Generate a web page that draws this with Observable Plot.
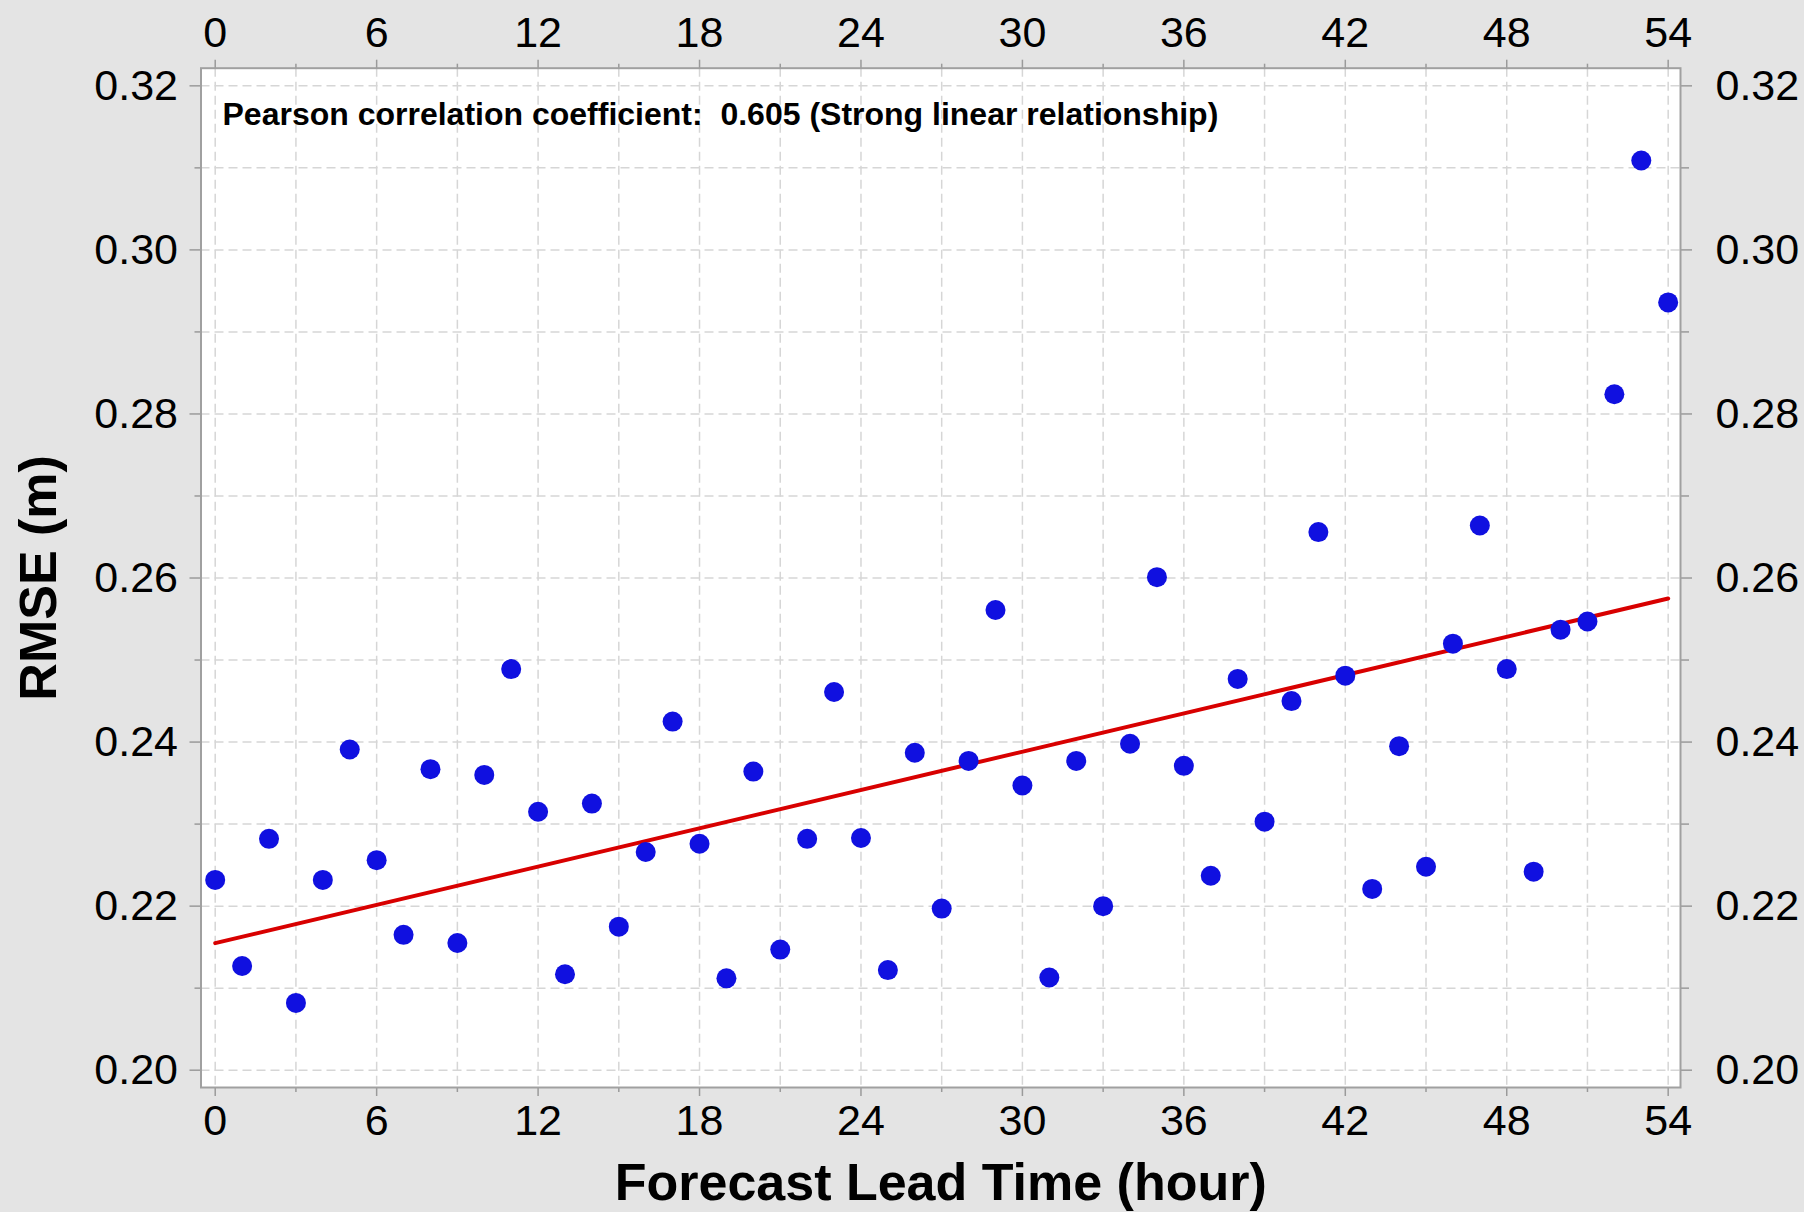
<!DOCTYPE html>
<html>
<head>
<meta charset="utf-8">
<script src="https://cdn.jsdelivr.net/npm/d3@7"></script>
<script src="https://cdn.jsdelivr.net/npm/@observablehq/plot@0.6"></script>
<style>
  html, body { margin: 0; padding: 0; background: #e4e4e4; }
  svg text { white-space: pre; }
</style>
</head>
<body>
<div id="chart"></div>
<script>
// ---- data ----
const hours = [0,1,2,3,4,5,6,7,8,9,10,11,12,13,14,15,16,17,18,19,20,21,22,23,24,25,26,27,28,29,30,31,32,33,34,35,36,37,38,39,40,41,42,43,44,45,46,47,48,49,50,51,52,53,54];
const rmse = [0.2232,0.2127,0.2282,0.2082,0.2232,0.2391,0.2256,0.2165,0.2367,0.2155,
              0.2360,0.2489,0.2315,0.2117,0.2325,0.2175,0.2266,0.2425,0.2276,0.2112,
              0.2364,0.2147,0.2282,0.2461,0.2283,0.2122,0.2387,0.2197,0.2377,0.2561,
              0.2347,0.2113,0.2377,0.2200,0.2398,0.2601,0.2371,0.2237,0.2477,0.2303,
              0.2450,0.2656,0.2481,0.2221,0.2395,0.2248,0.2520,0.2664,0.2489,0.2242,
              0.2537,0.2547,0.2824,0.3109,0.2936];
const xTicks = [0,6,12,18,24,30,36,42,48,54];
const xMinorTicks = [3,9,15,21,27,33,39,45,51];
const xGrid = [0,3,6,9,12,15,18,21,24,27,30,33,36,39,42,45,48,51,54];
const yTicks = [0.20,0.22,0.24,0.26,0.28,0.30,0.32];
const yMinorTicks = [0.21,0.23,0.25,0.27,0.29,0.31];
const yGrid = [0.20,0.21,0.22,0.23,0.24,0.25,0.26,0.27,0.28,0.29,0.30,0.31,0.32];
const xLabel = "Forecast Lead Time (hour)";
const yLabel = "RMSE (m)";
const annotation = "Pearson correlation coefficient:  0.605 (Strong linear relationship)";

const data = hours.map((h, i) => ({hour: h, rmse: rmse[i]}));

const tickColor = "#9a9a9a";
const gridStyle = {stroke: "#d6d6d6", strokeOpacity: 1, strokeWidth: 1.5, strokeDasharray: "9,5"};
const fmt = d3.format(".2f");

const chart = Plot.plot({
  width: 1804,
  height: 1212,
  marginLeft: 200.5,
  marginRight: 124,
  marginTop: 67.7,
  marginBottom: 125,
  style: {background: "#e4e4e4", fontFamily: "'Liberation Sans', Arial, sans-serif", color: "black"},
  x: {domain: [-0.528, 54.458], label: null},
  y: {domain: [0.19789, 0.32215], label: null},
  marks: [
    Plot.frame({fill: "white", stroke: "none"}),
    Plot.gridX(xGrid, gridStyle),
    Plot.gridY(yGrid, gridStyle),
    // x axes (bottom & top)
    Plot.axisX(xTicks, {anchor: "bottom", tickSize: 9, tickPadding: 8, fontSize: 43, stroke: tickColor, strokeWidth: 1.5, fill: "black", label: null}),
    Plot.axisX(xMinorTicks, {anchor: "bottom", tickSize: 5, tickFormat: () => "", stroke: tickColor, strokeWidth: 1.5, label: null}),
    Plot.axisX(xTicks, {anchor: "top", tickSize: 9, tickPadding: 12, fontSize: 43, stroke: tickColor, strokeWidth: 1.5, fill: "black", label: null}),
    Plot.axisX(xMinorTicks, {anchor: "top", tickSize: 5, tickFormat: () => "", stroke: tickColor, strokeWidth: 1.5, label: null}),
    // y axes (left & right)
    Plot.axisY(yTicks, {anchor: "left", tickSize: 11, tickPadding: 12, fontSize: 43, tickFormat: fmt, stroke: tickColor, strokeWidth: 1.5, fill: "black", label: null}),
    Plot.axisY(yMinorTicks, {anchor: "left", tickSize: 6, tickFormat: () => "", stroke: tickColor, strokeWidth: 1.5, label: null}),
    Plot.axisY(yTicks, {anchor: "right", tickSize: 11, tickPadding: 24, fontSize: 43, tickFormat: fmt, stroke: tickColor, strokeWidth: 1.5, fill: "black", label: null}),
    Plot.axisY(yMinorTicks, {anchor: "right", tickSize: 8, tickFormat: () => "", stroke: tickColor, strokeWidth: 1.5, label: null}),
    // regression line
    Plot.linearRegressionY(data, {x: "hour", y: "rmse", ci: 0, stroke: "#d80000", strokeWidth: 4}),
    // points
    Plot.dot(data, {x: "hour", y: "rmse", r: 10, fill: "#1010e0", stroke: "none"}),
    // annotation
    Plot.text([annotation], {frameAnchor: "top-left", textAnchor: "start", lineAnchor: "top", dx: 21.5, dy: 34, fontSize: 32, fontWeight: "bold", fill: "black"}),
    // axis titles
    Plot.text([xLabel], {frameAnchor: "bottom", textAnchor: "middle", lineAnchor: "top", dy: 76, fontSize: 52, fontWeight: "bold", fill: "black"}),
    Plot.text([yLabel], {frameAnchor: "left", textAnchor: "middle", lineAnchor: "bottom", rotate: -90, dx: -145, fontSize: 52, fontWeight: "bold", fill: "black"}),
    Plot.frame({stroke: "#a0a0a0", strokeWidth: 2, fill: "none"})
  ]
});
document.getElementById("chart").appendChild(chart);
</script>
</body>
</html>
